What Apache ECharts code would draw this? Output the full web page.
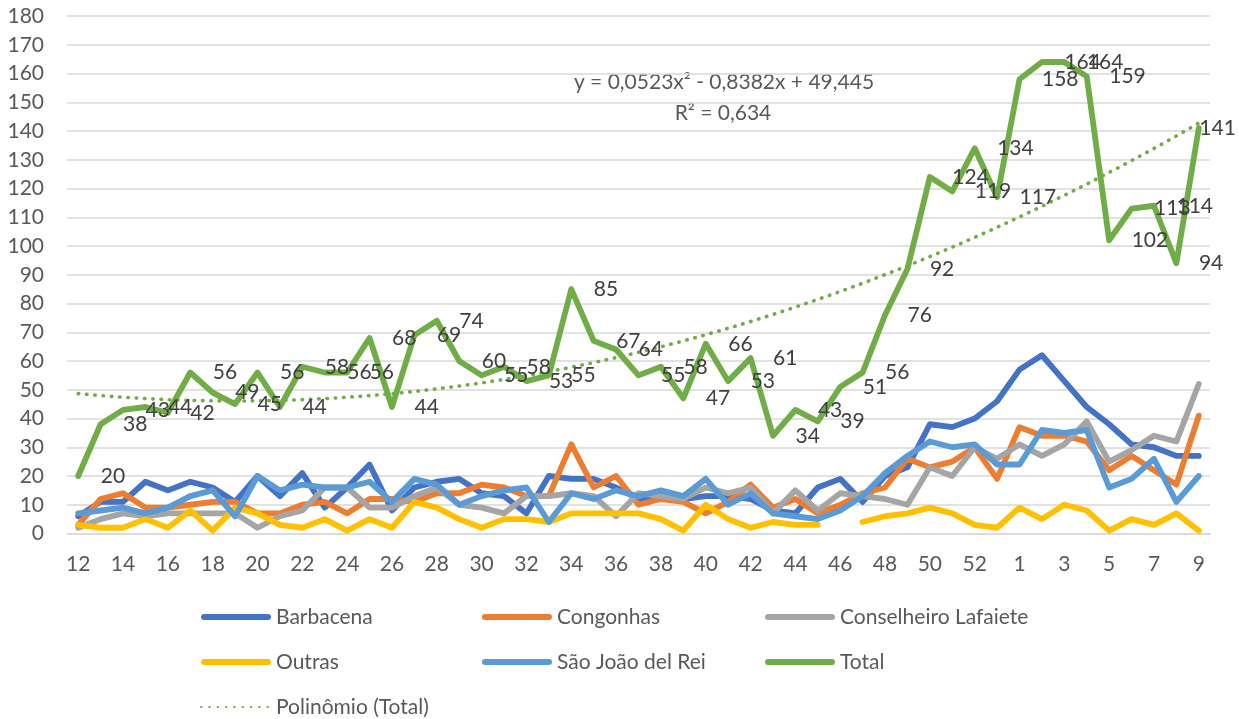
<!DOCTYPE html>
<html>
<head>
<meta charset="utf-8">
<script src="https://cdn.jsdelivr.net/npm/echarts@6/dist/echarts.min.js"></script>
<style>
  html, body { margin: 0; padding: 0; background: #ffffff; }
  #chart { width: 1239px; height: 719px; }
</style>
</head>
<body>
<div id="chart"></div>
<script>
// semanas epidemiológicas (12..53 e 1..9)
const weeks = ['12', '13', '14', '15', '16', '17', '18', '19', '20', '21', '22', '23', '24', '25', '26',
  '27', '28', '29', '30', '31', '32', '33', '34', '35', '36', '37', '38', '39', '40', '41', '42', '43',
  '44', '45', '46', '47', '48', '49', '50', '51', '52', '53', '1', '2', '3', '4', '5', '6', '7', '8', '9']

const barbacena = [6, 11, 11, 18, 15, 18, 16, 11, 20, 13, 21, 9, 16, 24, 8, 16, 18, 19, 14, 13, 7, 20, 19,
  19, 16, 12, 13, 12, 13, 13, 12, 8, 7, 16, 19, 11, 20, 23, 38, 37, 40, 46, 57, 62, 53, 44, 38, 31, 30, 27, 27]
const congonhas = [3, 12, 14, 9, 9, 10, 11, 11, 7, 7, 10, 11, 7, 12, 12, 11, 14, 14, 17, 16, 13, 13, 31,
  16, 20, 10, 12, 11, 7, 11, 17, 9, 12, 7, 10, 14, 16, 26, 23, 25, 30, 19, 37, 34, 34, 32, 22, 27, 22, 17, 41]
const lafaiete = [2, 5, 7, 6, 7, 7, 7, 7, 2, 6, 8, 16, 16, 9, 9, 13, 16, 10, 9, 7, 13, 13, 14, 13, 6, 14,
  13, 12, 16, 14, 16, 7, 15, 8, 14, 13, 12, 10, 23, 20, 30, 26, 31, 27, 31, 39, 25, 29, 34, 32, 52]
const outras = [3, 2, 2, 5, 2, 8, 1, 9, 7, 3, 2, 5, 1, 5, 2, 11, 9, 5, 2, 5, 5, 4, 7, 7, 7, 7, 5, 1, 10,
  5, 2, 4, 3, 3, null, 4, 6, 7, 9, 7, 3, 2, 9, 5, 10, 8, 1, 5, 3, 7, 1]
const saoJoao = [7, 8, 9, 7, 9, 13, 15, 6, 20, 15, 17, 16, 16, 18, 11, 19, 17, 10, 13, 15, 16, 4, 14, 12,
  15, 13, 15, 13, 19, 10, 14, 7, 6, 5, 8, 13, 21, 27, 32, 30, 31, 24, 24, 36, 35, 36, 16, 19, 26, 11, 20]
const total = [20, 38, 43, 44, 42, 56, 49, 45, 56, 44, 58, 56, 56, 68, 44, 69, 74, 60, 55, 58, 53, 55, 85,
  67, 64, 55, 58, 47, 66, 53, 61, 34, 43, 39, 51, 56, 76, 92, 124, 119, 134, 117, 158, 164, 164, 159, 102,
  113, 114, 94, 141]

// linha de tendência polinomial (y = a x² + b x + c), como mostrada no gráfico
const trendCoef = [0.0523, -0.8382, 49.445]
const trendText = ['y = 0,0523x² - 0,8382x + 49,445', 'R² = 0,634']

const yTicks = { min: 0, max: 180, interval: 10 }

const trendline = weeks.map((w, i) => {
  const x = i + 1
  return +(trendCoef[0] * x * x + trendCoef[1] * x + trendCoef[2]).toFixed(2)
})

const FONT = 'Lato'
const capsule = 'path://M3,0 L67,0 A3,3 0 0 1 67,6 L3,6 A3,3 0 0 1 3,0 Z'

// o último rótulo fica encostado no ponto para caber no gráfico
const totalData = total.map((v, i) => (i === total.length - 1 ? { value: v, label: { distance: 0 } } : v))

const lineSerie = (name, data, color) => ({
  name,
  type: 'line',
  data,
  symbol: 'none',
  color,
  lineStyle: { width: 5.8, color, cap: 'round', join: 'round' },
  emphasis: { disabled: true }
})

const legendBase = {
  orient: 'vertical',
  top: 606,
  padding: 0,
  itemGap: 23,
  itemWidth: 70,
  itemHeight: 6,
  selectedMode: false,
  textStyle: { fontFamily: FONT, fontSize: 21, color: '#595959', lineHeight: 22 }
}

const myChart = echarts.init(document.getElementById('chart'))
const options = {
  animation: false,
  grid: { left: 67, right: 29, top: 16, bottom: 185.5 },
  legend: [
    {
      ...legendBase,
      left: 200,
      data: [
        { name: 'Barbacena', icon: capsule },
        { name: 'Outras', icon: capsule },
        { name: 'Polinômio (Total)', itemStyle: { opacity: 0 } }
      ]
    },
    { ...legendBase, left: 482, data: [{ name: 'Congonhas', icon: capsule }, { name: 'São João del Rei', icon: capsule }] },
    { ...legendBase, left: 765, data: [{ name: 'Conselheiro Lafaiete', icon: capsule }, { name: 'Total', icon: capsule }] }
  ],
  xAxis: {
    type: 'category',
    data: weeks,
    boundaryGap: true,
    axisLine: { show: true, lineStyle: { color: '#D9D9D9', width: 1.5 } },
    axisTick: { show: false },
    axisLabel: { interval: 1, margin: 20, fontFamily: FONT, fontSize: 21, color: '#595959' }
  },
  yAxis: {
    type: 'value',
    min: yTicks.min,
    max: yTicks.max,
    interval: yTicks.interval,
    axisLine: { show: false },
    axisTick: { show: false },
    axisLabel: { margin: 23, fontFamily: FONT, fontSize: 21, color: '#595959' },
    splitLine: { lineStyle: { color: '#D9D9D9', width: 1.5 } }
  },
  graphic: [
    {
      type: 'text', x: 724, y: 82,
      style: { text: trendText[0], align: 'center', verticalAlign: 'middle', fontFamily: FONT, fontSize: 21, fill: '#595959' }
    },
    {
      type: 'text', x: 723, y: 113,
      style: { text: trendText[1], align: 'center', verticalAlign: 'middle', fontFamily: FONT, fontSize: 21, fill: '#595959' }
    }
  ],
  series: [
    lineSerie('Barbacena', barbacena, '#4472C4'),
    lineSerie('Congonhas', congonhas, '#ED7D31'),
    lineSerie('Conselheiro Lafaiete', lafaiete, '#A5A5A5'),
    lineSerie('Outras', outras, '#FFC000'),
    lineSerie('São João del Rei', saoJoao, '#5B9BD5'),
    {
      ...lineSerie('Total', totalData, '#70AD47'),
      symbol: 'circle',
      symbolSize: 1,
      showSymbol: true,
      showAllSymbol: true,
      itemStyle: { color: '#70AD47' },
      label: {
        show: true,
        position: 'right',
        distance: 22,
        fontFamily: FONT,
        fontSize: 21,
        color: '#404040'
      }
    },
    {
      name: 'Polinômio (Total)',
      type: 'line',
      data: trendline,
      symbol: 'none',
      color: '#70AD47',
      lineStyle: { width: 3.6, color: '#70AD47', type: [0.5, 7.8], cap: 'round' },
      emphasis: { disabled: true },
      z: 3
    }
  ]
}
myChart.setOption(options)
</script>
</body>
</html>
